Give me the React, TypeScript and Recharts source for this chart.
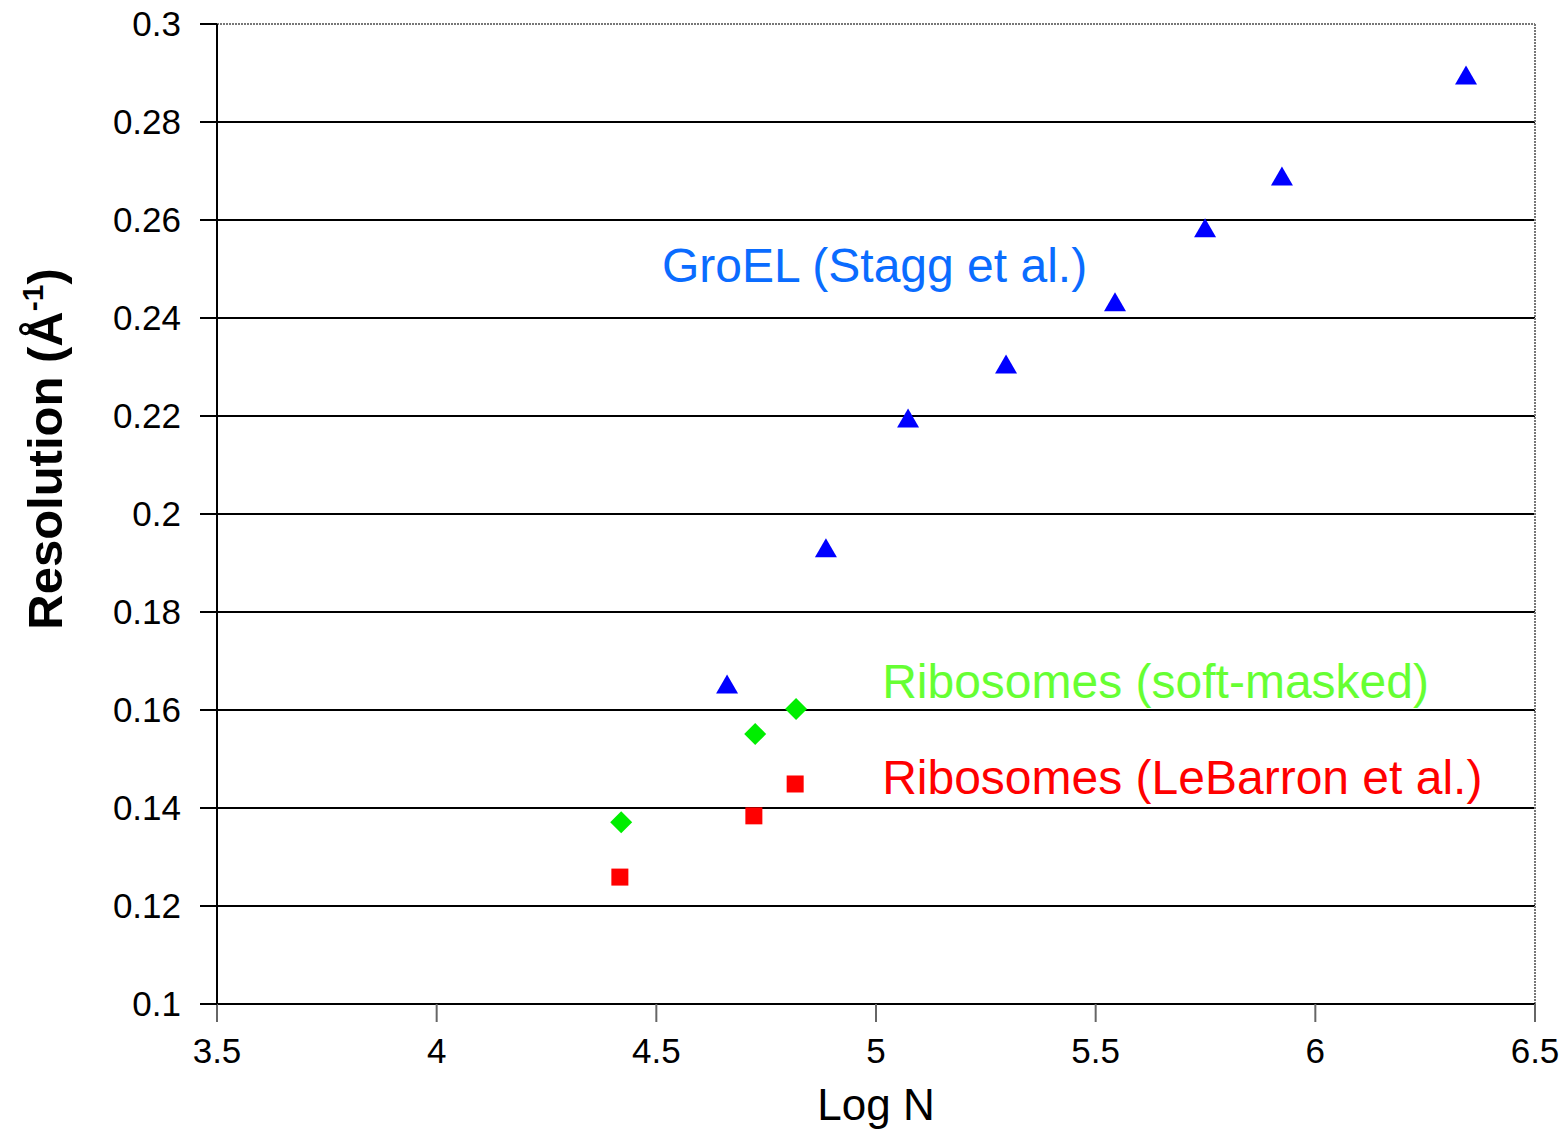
import React from "react";
import {
  ScatterChart,
  Scatter,
  XAxis,
  YAxis,
  CartesianGrid,
  ReferenceLine,
  ReferenceDot,
  Label,
} from "recharts";

// values (Log N vs resolution in 1/Å)
const groelLogN = [4.661, 4.886, 5.073, 5.296, 5.544, 5.749, 5.924, 6.343];
const groelRes = [0.1653, 0.1931, 0.2196, 0.2306, 0.2433, 0.2584, 0.269, 0.2896];

const softLogN = [4.42, 4.725, 4.818];
const softRes = [0.1371, 0.1551, 0.1602];

const lebarronLogN = [4.417, 4.722, 4.816];
const lebarronRes = [0.1259, 0.1384, 0.1449];

const xTicks = [3.5, 4, 4.5, 5, 5.5, 6, 6.5];
const yTicks = [0.1, 0.12, 0.14, 0.16, 0.18, 0.2, 0.22, 0.24, 0.26, 0.28, 0.3];
const gridValues = [0.12, 0.14, 0.16, 0.18, 0.2, 0.22, 0.24, 0.26, 0.28];

const toPoints = (xs: number[], ys: number[]) =>
  xs.map((x, i) => ({ x, y: ys[i] }));

const FONT = "'Liberation Sans', Arial, Helvetica, sans-serif";

const Triangle = (props: any) => {
  const { cx, cy } = props;
  return (
    <polygon
      points={`${cx},${cy - 9.5} ${cx - 11},${cy + 9.5} ${cx + 11},${cy + 9.5}`}
      fill="#0000ff"
    />
  );
};

const Diamond = (props: any) => {
  const { cx, cy } = props;
  return (
    <polygon
      points={`${cx},${cy - 11} ${cx + 11},${cy} ${cx},${cy + 11} ${cx - 11},${cy}`}
      fill="#00ee00"
    />
  );
};

const Square = (props: any) => {
  const { cx, cy } = props;
  return <rect x={cx - 8.5} y={cy - 8.5} width={17} height={17} fill="#ff0000" />;
};

const textShape = (text: string, color: string) => (props: any) => (
  <text
    x={props.cx}
    y={props.cy}
    fill={color}
    fontSize={48}
    fontFamily={FONT}
    textAnchor="start"
  >
    {text}
  </text>
);

const YTitle = (props: any) => {
  const { viewBox } = props;
  const x = viewBox.x + 62;
  const y = 449;
  return (
    <text
      x={x}
      y={y}
      transform={`rotate(-90, ${x}, ${y})`}
      textAnchor="middle"
      fontSize={49}
      fontWeight="bold"
      fontFamily={FONT}
      fill="#000"
    >
      <tspan>Resolution (Å</tspan>
      <tspan fontSize={30} dy={-19}>-1</tspan>
      <tspan dy={19}>)</tspan>
    </text>
  );
};

export default function App() {
  return (
    <div style={{ position: "absolute", left: 0, top: 0, background: "#fff" }}>
      <ScatterChart
        width={1563}
        height={1132}
        margin={{ top: 24, right: 28, bottom: 0, left: 0 }}
      >
        <CartesianGrid
          horizontal
          vertical={false}
          horizontalValues={gridValues}
          stroke="#000"
          strokeWidth={2}
        />
        <ReferenceLine y={0.3} stroke="#777" strokeWidth={2} strokeDasharray="2 1" />
        <ReferenceLine x={6.5} stroke="#777" strokeWidth={2} strokeDasharray="2 1" />
        <XAxis
          type="number"
          dataKey="x"
          domain={[3.5, 6.5]}
          ticks={xTicks}
          height={128}
          tickSize={18}
          tickMargin={16}
          axisLine={{ stroke: "#000", strokeWidth: 2 }}
          tickLine={{ stroke: "#666", strokeWidth: 2 }}
          tick={{ fill: "#000", fontSize: 35, fontFamily: FONT }}
          allowDataOverflow
        >
          <Label
            value="Log N"
            position="insideBottom"
            offset={12}
            fill="#000"
            fontSize={44}
            fontFamily={FONT}
          />
        </XAxis>
        <YAxis
          type="number"
          dataKey="y"
          domain={[0.1, 0.3]}
          ticks={yTicks}
          width={217}
          tickSize={17}
          tickMargin={19}
          axisLine={{ stroke: "#000", strokeWidth: 2 }}
          tickLine={{ stroke: "#000", strokeWidth: 2 }}
          tick={{ fill: "#000", fontSize: 35, fontFamily: FONT }}
          allowDataOverflow
        >
          <Label content={<YTitle />} position="insideLeft" />
        </YAxis>
        <Scatter
          data={toPoints(groelLogN, groelRes)}
          shape={<Triangle />}
          isAnimationActive={false}
        />
        <Scatter
          data={toPoints(softLogN, softRes)}
          shape={<Diamond />}
          isAnimationActive={false}
        />
        <Scatter
          data={toPoints(lebarronLogN, lebarronRes)}
          shape={<Square />}
          isAnimationActive={false}
        />
        <ReferenceDot
          x={4.513}
          y={0.2473}
          r={0}
          shape={textShape("GroEL (Stagg et al.)", "#0a6cff")}
        />
        <ReferenceDot
          x={5.014}
          y={0.1624}
          r={0}
          shape={textShape("Ribosomes (soft-masked)", "#66ff33")}
        />
        <ReferenceDot
          x={5.014}
          y={0.1429}
          r={0}
          shape={textShape("Ribosomes (LeBarron et al.)", "#ff0000")}
        />
      </ScatterChart>
    </div>
  );
}
